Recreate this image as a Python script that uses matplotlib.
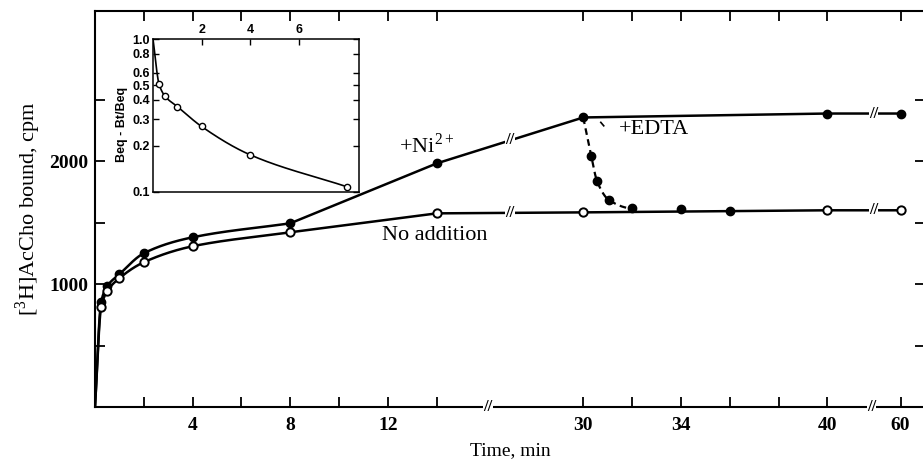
import numpy as np
import matplotlib.pyplot as plt

# Time axis is broken: 0-14 min, 30-40 min and 60 min share one drawn axis
# real time (min) -> position on the drawn axis
break_real = [0, 14, 30, 40, 60]
break_draw = [0, 14, 20, 30, 33]

# +Ni2+ (filled circles)
ni_time = [0.25, 0.5, 1, 2, 4, 8, 14, 30, 40, 60]
ni_cpm = [854, 984, 1081, 1252, 1382, 1496, 1984, 2358, 2390, 2390]

# No addition (open circles)
no_time = [0.25, 0.5, 1, 2, 4, 8, 14, 30, 40, 60]
no_cpm = [813, 943, 1049, 1179, 1309, 1423, 1577, 1585, 1602, 1602]

# +EDTA added at 30 min (filled circles, dashed)
edta_time = [30, 30.33, 30.57, 31.07, 32, 34, 36]
edta_cpm = [2358, 2041, 1837, 1683, 1618, 1610, 1593]

# inset: (Beq - Bt)/Beq vs time
inset_time = [0.25, 0.5, 1, 2, 4, 8]
inset_frac = [0.506, 0.422, 0.362, 0.268, 0.175, 0.108]

x_tick_labels = ["4", "8", "12", "30", "34", "40", "60"]
x_tick_real = [4, 8, 12, 30, 34, 40, 60]


def to_draw(t):
    return np.interp(t, break_real, break_draw)


def pchip(x, y, xn, end_slope=None):
    # simple monotone cubic, enough for a smooth hand-drawn look
    x = np.asarray(x, float)
    y = np.asarray(y, float)
    h = np.diff(x)
    d = np.diff(y) / h
    m = np.zeros_like(y)
    for k in range(1, len(x) - 1):
        if d[k - 1] * d[k] > 0:
            w1 = 2 * h[k] + h[k - 1]
            w2 = h[k] + 2 * h[k - 1]
            m[k] = (w1 + w2) / (w1 / d[k - 1] + w2 / d[k])
    m[0] = d[0]
    m[-1] = d[-1] if end_slope is None else end_slope
    i = np.clip(np.searchsorted(x, xn) - 1, 0, len(h) - 1)
    t = (xn - x[i]) / h[i]
    return ((2 * t**3 - 3 * t**2 + 1) * y[i] + (t**3 - 2 * t**2 + t) * h[i] * m[i]
            + (-2 * t**3 + 3 * t**2) * y[i + 1] + (t**3 - t**2) * h[i] * m[i + 1])


plt.rcParams['font.family'] = ['Liberation Serif', 'DejaVu Serif']
plt.rcParams['mathtext.fontset'] = 'custom'
plt.rcParams['mathtext.rm'] = 'Liberation Serif'

fig = plt.figure(figsize=(9.23, 4.67), dpi=100)
ax = fig.add_axes([95 / 923, 60 / 467, 830 / 923, 396 / 467])

lw = 1.8
ms = 6


def draw_series(times, cpm):
    u = to_draw(np.array(times, float))
    u_all = np.concatenate([[0], u])
    c_all = np.concatenate([[0], cpm])
    # smooth early rise up to 8 min, straight segments after
    n = list(times).index(8) + 2
    uu = np.linspace(0, u_all[n - 1], 300)
    curve = pchip(u_all[:n], c_all[:n], uu)
    xs = np.concatenate([uu, u_all[n:]])
    ys = np.concatenate([curve, c_all[n:]])
    ax.plot(xs, ys, color='black', lw=lw, zorder=2)
    return u


u_no = draw_series(no_time, no_cpm)
u_ni = draw_series(ni_time, ni_cpm)
ax.plot(u_ni, ni_cpm, 'o', color='black', ms=ms, zorder=4)
ax.plot(u_no, no_cpm, 'o', mfc='white', mec='black', mew=1.4, ms=ms, zorder=4)

# EDTA dashed drop
u_e = to_draw(np.array(edta_time, float))
k = edta_time.index(32)
ue = np.linspace(u_e[0], u_e[k], 200)
ax.plot(ue, pchip(u_e[:k + 1], edta_cpm[:k + 1], ue, end_slope=0),
        color='black', lw=1.6, ls=(0, (3, 2)), zorder=3)
ax.plot(u_e[1:], edta_cpm[1:], 'o', color='black', ms=ms, zorder=4)

# break marks on the data lines and on the axis
for series_u, series_c in [(u_ni, ni_cpm), (u_no, no_cpm)]:
    for ub in [17.0, 31.9]:
        yb = np.interp(ub, series_u, series_c)
        ax.text(ub, yb, '//', ha='center', va='center', fontsize=12, fontweight='bold',
                bbox=dict(facecolor='white', edgecolor='none', pad=0), zorder=5)
for ub in [16.1, 31.8]:
    ax.text(ub, 0, '//', ha='center', va='center', fontsize=12, fontweight='bold',
            bbox=dict(facecolor='white', edgecolor='none', pad=0), zorder=5, clip_on=False)

# labels on the curves
ax.text(13.6, 2130, '+Ni$^{\\mathrm{2+}}$', fontsize=16, ha='center', va='center')
ax.text(13.9, 1400, 'No addition', fontsize=16, ha='center', va='center')
ax.text(22.9, 2260, '+EDTA', fontsize=16, ha='center', va='center')
ax.plot([20.72, 20.84], [2318, 2290], color='black', lw=1.2)

ax.set_xlim(0, 34)
ax.set_ylim(0, 3225)
ax.set_xticks(to_draw(np.array(x_tick_real, float)))
ax.set_xticklabels(x_tick_labels, fontsize=14, fontweight='bold')
ax.set_xticks([2, 6, 10, 14, 22, 26, 28], minor=True)
ax.set_yticks([1000, 2000])
ax.set_yticklabels(['1000', '2000'], fontsize=14, fontweight='bold')
ax.set_yticks([500, 1500, 2500], minor=True)
ax.tick_params(which='both', direction='in', length=7, width=1.3,
               top=True, right=True, pad=5)
ax.tick_params(axis='x', which='both', pad=7)
for s in ax.spines.values():
    s.set_linewidth(1.5)

ax.set_xlabel('Time, min', fontsize=14, labelpad=6)
ax.set_ylabel('[$^{\\mathrm{3}}$H]AcCho bound, cpm', fontsize=16, labelpad=4)

# inset
axi = fig.add_axes([153 / 923, 275 / 467, 206 / 923, 153 / 467])
axi.set_yscale('log')
ti = np.concatenate([[0], inset_time])
fi = np.concatenate([[1.0], inset_frac])
tt = np.linspace(0, 8, 300)
axi.plot(tt, 10 ** pchip(ti, np.log10(fi), tt), color='black', lw=1.2)
axi.plot(inset_time, inset_frac, 'o', mfc='white', mec='black', mew=1.0, ms=4.5)
axi.set_xlim(0, 8.48)
axi.set_ylim(0.1, 1.0)
axi.xaxis.tick_top()
axi.set_xticks([2, 4, 6])
axi.set_xticklabels(['2', '4', '6'], family='Liberation Sans', fontsize=9, fontweight='bold')
yt = [0.1, 0.2, 0.3, 0.4, 0.5, 0.6, 0.8, 1.0]
axi.set_yticks(yt)
axi.set_yticklabels(['0.1', '0.2', '0.3', '0.4', '0.5', '0.6', '0.8', '1.0'],
                    family='Liberation Sans', fontsize=9, fontweight='bold')
axi.minorticks_off()
axi.tick_params(direction='in', length=4, width=1.0, pad=2, right=True)
for s in axi.spines.values():
    s.set_linewidth(1.1)
axi.text(-0.15, 0.44, 'Beq - Bt/Beq', transform=axi.transAxes, rotation=90,
         ha='center', va='center', family='Liberation Sans', fontsize=9, fontweight='bold')

fig.savefig('out.png', dpi=100)
